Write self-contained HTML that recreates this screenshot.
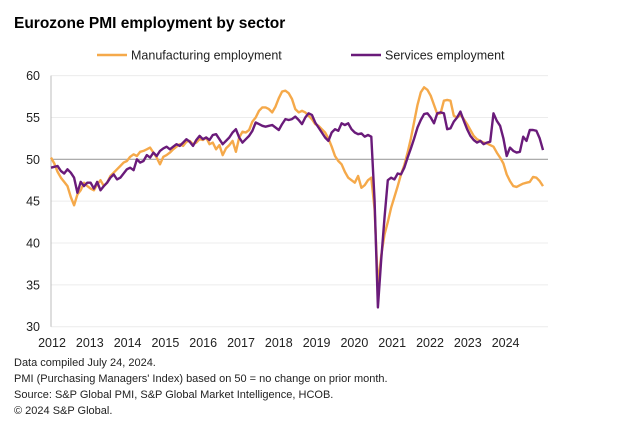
<!DOCTYPE html>
<html><head><meta charset="utf-8"><style>
body{margin:0;background:#fff;width:618px;height:424px;overflow:hidden;font-family:"Liberation Sans",Arial,sans-serif}
</style></head><body>
<svg width="618" height="424" xmlns="http://www.w3.org/2000/svg">
<text x="14" y="28" font-size="15.5" font-weight="bold" fill="#000">Eurozone PMI employment by sector</text>
<g>
<line x1="97" y1="55" x2="127" y2="55" stroke="#f5a94a" stroke-width="2.5"/>
<text x="131" y="59.5" font-size="12.5" fill="#222">Manufacturing employment</text>
<line x1="351" y1="55" x2="381" y2="55" stroke="#6a1b7a" stroke-width="2.5"/>
<text x="385" y="59.5" font-size="12.5" fill="#222">Services employment</text>
</g>
<g id="grid"></g><g id="series"></g>
<g font-size="11" fill="#222">
<text x="14" y="366">Data compiled July 24, 2024.</text>
<text x="14" y="382">PMI (Purchasing Managers' Index) based on 50 = no change on prior month.</text>
<text x="14" y="398">Source: S&amp;P Global PMI, S&amp;P Global Market Intelligence, HCOB.</text>
<text x="14" y="414">© 2024 S&amp;P Global.</text>
</g>
</svg>
<script>
const yTicks=[30,35,40,45,50,55,60];
const yearLabels=["2012","2013","2014","2015","2016","2017","2018","2019","2020","2021","2022","2023","2024"];
const manufacturing=[
50.2,49.5,48.5,47.8,47.3,46.8,45.5,44.5,45.8,46.3,47.2,46.8,
46.5,46.3,47,47.5,46.8,47.2,48,48.4,48.8,49.2,49.6,49.8,
50.3,50.6,50.4,50.9,51,51.2,51.4,50.8,50.2,49.4,50.3,50.5,
50.8,51.2,51.5,51.8,51.6,52.1,52.2,51.8,52,52.4,52.3,52.6,
51.8,52,51.2,51.7,50.5,51.3,51.7,52.2,50.9,52.6,53.3,53.2,
53.5,54.5,55,55.8,56.2,56.2,56,55.6,56.3,57.3,58.1,58.2,
57.9,57.2,56,55.6,55.8,55.6,55.2,54.8,54.2,54,53.6,53.2,
52.5,51.5,50.4,49.8,49.4,48.5,47.8,47.5,47.2,48,46.6,46.9,
47.5,47.8,44,34.8,38.5,41,42.5,44.2,45.5,46.8,48.2,49.3,
50.8,52.5,54.5,56.5,58,58.6,58.3,57.6,56.5,55.4,55.5,57,
57.1,57,55.2,55,55.3,54.8,54.2,53.5,52.8,52.4,52.2,52,
51.9,51.7,51.5,50.8,50.2,49.5,48.2,47.4,46.8,46.7,46.9,47.1,
47.2,47.3,47.9,47.8,47.4,46.8];
const services=[
49,49.1,49.2,48.6,48.3,48.8,48.4,47.8,46,47.3,46.8,47.2,
47.2,46.5,47.3,46.3,46.8,47.2,47.8,48.2,47.6,47.8,48.3,48.8,
49,48.7,50,49.6,49.8,50.5,50.2,50.8,50.4,51,51.3,51.5,
51.2,51.5,51.8,51.6,52,52.4,52.1,51.6,52.3,52.8,52.4,52.6,
52.3,52.9,53,52.4,51.8,52.2,52.6,53.2,53.6,52.6,52,52.4,
52.8,53.4,54.4,54.2,54,53.9,54,54.1,53.8,53.5,54.2,54.8,
54.7,54.8,55.1,54.7,54.2,55,55.5,55.3,54.4,53.8,53.2,52.6,
52.2,53.2,53.6,53.4,54.3,54.1,54.3,53.6,53.2,53,53.1,52.7,
52.9,52.7,45,32.3,38,43,47.5,47.8,47.6,48.3,48.2,49,
50.2,51.3,52.5,53.8,54.7,55.4,55.5,55,54.3,55.5,55.6,55.5,
53.6,53.7,54.5,55,55.7,54.6,53.6,52.8,52.3,52,52.2,51.8,
52,52.1,55.5,54.6,54,52.5,50.4,51.4,51,50.8,50.9,52.7,
52.2,53.5,53.5,53.4,52.5,51.1];
const NS="http://www.w3.org/2000/svg";
const X0=51,X1=543,Y30=326.7,PPU=8.37;
const n=manufacturing.length;
function xs(i){return X0+i*(X1-X0)/(n-1);}
function ys(v){return Y30-(v-30)*PPU;}
function mk(tag,attrs,parent){const e=document.createElementNS(NS,tag);for(const k in attrs)e.setAttribute(k,attrs[k]);parent.appendChild(e);return e;}
const grid=document.getElementById('grid');
yTicks.forEach(t=>{
  const l=mk('line',{x1:X0,x2:548,y1:ys(t),y2:ys(t),stroke:t===50?'#a0a0a0':'#ececec','stroke-width':t===50?1.2:1},grid);
  
  
  const tx=mk('text',{x:40,y:ys(t)+4.5,'text-anchor':'end','font-size':12.5,fill:'#222'},grid);
  tx.textContent=t;
  
  
});
const ax=mk('line',{x1:X0,x2:X0,y1:ys(60),y2:ys(30),stroke:'#bdbdbd','stroke-width':1},grid);


yearLabels.forEach((y,k)=>{
  const tx=mk('text',{x:52+k*37.8,y:347,'text-anchor':'middle','font-size':12.5,fill:'#222'},grid);
  tx.textContent=y;
  
  
});
const ser=document.getElementById('series');
function draw(arr,color,name){
  const d=arr.map((v,i)=>(i?'L':'M')+xs(i).toFixed(1)+' '+ys(v).toFixed(1)).join(' ');
  const p=mk('path',{d:d,fill:'none',stroke:color,'stroke-width':2.4,'stroke-linejoin':'round'},ser);
  
  
}
draw(manufacturing,'#f5a94a','manufacturing-line');
draw(services,'#6a1b7a','services-line');
</script>
</body></html>
